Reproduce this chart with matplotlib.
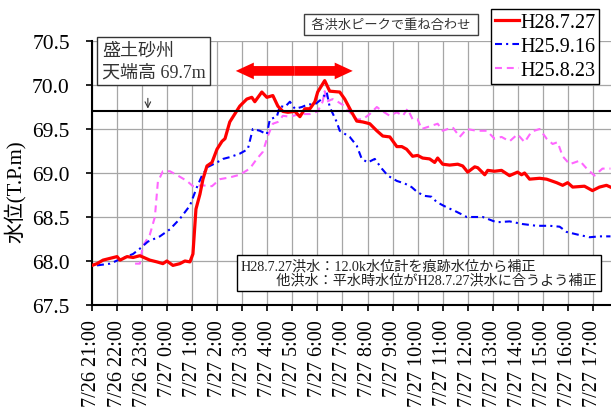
import matplotlib
matplotlib.use("Agg")
import matplotlib.pyplot as plt
from matplotlib.patches import FancyArrowPatch

plt.rcParams['font.family'] = ['Liberation Serif', 'Noto Sans CJK JP']
plt.rcParams['lines.scale_dashes'] = False

# hours after 7/26 21:00
red_t = [0, 0.2, 0.44, 1.0, 1.12, 1.4, 1.64, 1.91, 2.31, 2.59, 2.83, 2.99, 3.23, 3.51, 3.71,
         3.91, 4.03, 4.15, 4.31, 4.43, 4.59, 4.79, 4.99, 5.19, 5.31, 5.5, 5.7, 5.9, 6.18,
         6.38, 6.5, 6.78, 6.98, 7.22, 7.42, 7.62, 7.82, 8.1, 8.3, 8.5, 8.7, 8.9, 9.01, 9.29,
         9.49, 9.89, 10.09, 10.37, 10.57, 10.81, 11.09, 11.37, 11.61, 11.89, 12.17, 12.37,
         12.56, 12.8, 13.0, 13.2, 13.48, 13.68, 13.8, 14.0, 14.28, 14.6, 14.8, 15.0, 15.28,
         15.4, 15.68, 15.8, 16.07, 16.35, 16.67, 16.99, 17.15, 17.27, 17.47, 17.87, 18.15,
         18.55, 18.79, 18.99, 19.19, 19.66, 19.98, 20.26, 20.54, 20.7]
red_v = [67.95, 67.97, 68.01, 68.05, 68.01, 68.05, 68.04, 68.06, 68.01, 67.99, 67.97, 68.0,
         67.95, 67.97, 68.0, 67.99, 68.08, 68.59, 68.76, 68.93, 69.08, 69.12, 69.27, 69.36,
         69.39, 69.58, 69.67, 69.76, 69.84, 69.86, 69.81, 69.92, 69.86, 69.88, 69.76, 69.7,
         69.69, 69.7, 69.64, 69.73, 69.73, 69.81, 69.92, 70.05, 69.93, 69.92, 69.84, 69.69,
         69.59, 69.58, 69.56, 69.48, 69.42, 69.41, 69.3, 69.3, 69.27, 69.19, 69.2, 69.17,
         69.16, 69.12, 69.17, 69.1, 69.09, 69.1, 69.08, 69.01, 69.07, 69.06, 68.98, 69.03,
         69.02, 69.03, 68.97, 69.01, 68.98, 69.0, 68.93, 68.94, 68.93, 68.89, 68.86, 68.89,
         68.84, 68.85, 68.8, 68.84, 68.86, 68.84]

blue_t = [0.2, 0.72, 1.12, 1.64, 1.91, 2.23, 2.71, 3.11, 3.51, 3.91, 4.19, 4.39, 4.63, 4.99,
          5.23, 5.5, 5.9, 6.22, 6.42, 6.7, 6.98, 7.1, 7.38, 7.5, 7.7, 7.9, 8.1, 8.38, 8.62,
          8.9, 9.17, 9.37, 9.49, 9.77, 9.89, 10.29, 10.57, 10.77, 11.01, 11.29, 11.57, 11.81,
          12.17, 12.49, 12.76, 13.0, 13.28, 13.56, 13.76, 14.16, 14.48, 14.76, 14.96, 15.2,
          15.6, 16.15, 16.67, 17.19, 17.75, 18.27, 18.67, 18.95, 19.39, 19.87, 20.26, 20.7]
blue_v = [67.95, 67.97, 68.02, 68.08, 68.14, 68.22, 68.28, 68.36, 68.48, 68.63, 68.84, 68.97,
          69.07, 69.12, 69.16, 69.18, 69.22, 69.27, 69.5, 69.48, 69.44, 69.61, 69.64, 69.76,
          69.75, 69.81, 69.73, 69.75, 69.78, 69.78, 69.84, 69.92, 69.75, 69.58, 69.48, 69.41,
          69.31, 69.16, 69.12, 69.16, 69.05, 68.97, 68.91, 68.88, 68.84, 68.78, 68.74, 68.73,
          68.67, 68.61, 68.57, 68.53, 68.5, 68.5, 68.5, 68.44, 68.45, 68.42, 68.4, 68.4,
          68.39, 68.33, 68.3, 68.27, 68.28, 68.28]

pink_t = [1.72, 1.91, 2.03, 2.31, 2.51, 2.63, 2.83, 3.11, 3.43, 3.79, 4.03, 4.39, 4.79, 5.11,
          5.5, 5.9, 6.3, 6.58, 6.82, 7.02, 7.22, 7.42, 7.62, 7.9, 8.3, 8.7, 9.01, 9.21, 9.29,
          9.37, 9.61, 9.81, 10.09, 10.29, 10.57, 10.81, 11.09, 11.37, 11.61, 11.89, 12.17,
          12.41, 12.6, 12.8, 13.0, 13.16, 13.48, 13.8, 14.0, 14.2, 14.4, 14.68, 14.96, 15.36,
          15.76, 16.07, 16.35, 16.67, 16.99, 17.27, 17.55, 17.87, 18.15, 18.39, 18.59, 18.79,
          19.07, 19.47, 19.75, 20.06, 20.38, 20.7]
pink_v = [67.97, 67.97, 68.17, 68.3, 68.5, 68.9, 69.02, 69.02, 68.97, 68.91, 68.85, 68.86,
          68.85, 68.93, 68.95, 68.98, 69.05, 69.16, 69.24, 69.42, 69.56, 69.58, 69.65, 69.64,
          69.67, 69.67, 69.7, 69.81, 69.93, 69.81, 69.84, 69.81, 69.76, 69.69, 69.61, 69.61,
          69.67, 69.75, 69.7, 69.65, 69.69, 69.65, 69.73, 69.61, 69.61, 69.5, 69.53, 69.56,
          69.48, 69.5, 69.52, 69.41, 69.5, 69.48, 69.48, 69.39, 69.41, 69.36, 69.44, 69.35,
          69.47, 69.5, 69.39, 69.33, 69.35, 69.19, 69.1, 69.14, 69.05, 68.97, 69.05, 69.05]

labels = ['H28.7.27', 'H25.9.16', 'H25.8.23']
crest = 69.7
xticklabels = ['7/26 21:00', '7/26 22:00', '7/26 23:00', '7/27 0:00', '7/27 1:00',
               '7/27 2:00', '7/27 3:00', '7/27 4:00', '7/27 5:00', '7/27 6:00',
               '7/27 7:00', '7/27 8:00', '7/27 9:00', '7/27 10:00', '7/27 11:00',
               '7/27 12:00', '7/27 13:00', '7/27 14:00', '7/27 15:00', '7/27 16:00',
               '7/27 17:00']

fig = plt.figure(figsize=(6.11, 4.1), dpi=100)
ax = fig.add_axes([92/611, 104/410, 526/611, 264/410])

ax.plot(red_t, red_v, color='#FF0000', lw=2.3, label=labels[0], zorder=5)
ax.plot(blue_t, blue_v, color='#0000FF', lw=1.5, ls=(0, (5, 3, 1.5, 3)), label=labels[1], zorder=4)
ax.plot(pink_t, pink_v, color='#FF66FF', lw=1.5, ls=(0, (5, 3.5)), label=labels[2], zorder=3)
ax.axhline(crest, color='black', lw=1.5, zorder=6)

ax.set_xlim(0, 21)
ax.set_ylim(67.5, 70.5)
ax.set_xticks(range(len(xticklabels)))
ax.set_xticklabels(xticklabels, rotation=90, fontsize=14.5)
ax.set_yticks([67.5, 68.0, 68.5, 69.0, 69.5, 70.0, 70.5])
ax.set_yticklabels(['67.5', '68.0', '68.5', '69.0', '69.5', '70.0', '70.5'], fontsize=15.5)
ax.tick_params(axis='y', length=4, width=1.2, pad=12)
ax.tick_params(axis='x', length=4, width=1.2, pad=6)
ax.grid(True, color='#A6A6A6', lw=0.9)
ax.set_axisbelow(True)
for s in ['top', 'right']:
    ax.spines[s].set_visible(False)
ax.spines['left'].set_linewidth(1.5)
ax.spines['bottom'].set_linewidth(1.5)

fig.text(15/611, 1 - 192/410, '水位(T.P.m)', rotation=90, fontsize=15,
         ha='center', va='center')

leg = fig.legend(loc='upper left', bbox_to_anchor=(491/611, 1 - 10/410), fontsize=14.5,
                 handlelength=1.2, handletextpad=0.05, labelspacing=0.25, borderpad=0.2,
                 borderaxespad=0, fancybox=False, framealpha=1, edgecolor='black')
leg.get_frame().set_linewidth(1.0)

ax.text(0.568, 1.0625, ' 各洪水ピークで重ね合わせ ', transform=ax.transAxes, fontsize=9.5,
        ha='center', va='center', color='#333333',
        bbox=dict(boxstyle='square,pad=0.3', fc='white', ec='#404040', lw=1.0))

ax.text(0.019, 0.998, '盛土砂州\n天端高 69.7m', transform=ax.transAxes, fontsize=13,
        ha='left', va='top', color='#333333', linespacing=1.35,
        bbox=dict(boxstyle='square,pad=0.25', fc='white', ec='#333333', lw=1.0), zorder=10)

ax.annotate('', xy=(2.23, crest), xytext=(2.23, 69.88),
            arrowprops=dict(arrowstyle='->', color='#333333', lw=0.8))

ax.text(0.283, 0.121, 'H28.7.27洪水：12.0k水位計を痕跡水位から補正\n\u3000\u3000  他洪水：平水時水位がH28.7.27洪水に合うよう補正',
        transform=ax.transAxes, fontsize=10.2, ha='left', va='center', color='#222222',
        linespacing=1.05,
        bbox=dict(boxstyle='square,pad=0.3', fc='white', ec='black', lw=1.0), zorder=10)

# red double-headed arrow (peak alignment span)
mid = (5.74 + 10.41) / 2
for end in (5.74, 10.41):
    ax.add_patch(FancyArrowPatch((mid, 70.16), (end, 70.16),
                                 arrowstyle='simple,head_width=12,head_length=13,tail_width=7',
                                 mutation_scale=1, color='#FF0000', lw=0, zorder=7,
                                 shrinkA=0, shrinkB=0))

fig.savefig('out.png', dpi=100)
